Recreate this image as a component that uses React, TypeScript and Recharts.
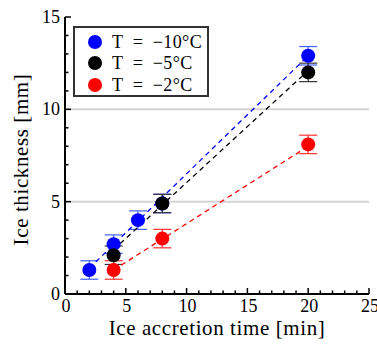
import { ScatterChart, Scatter, XAxis, YAxis, ErrorBar, ReferenceLine, Legend } from 'recharts';

// measured points
const timesA = [2, 4, 6, 8, 20];
const thickA = [1.3, 2.7, 4.0, 4.9, 12.9];
const errA = [0.5, 0.5, 0.5, 0.5, 0.5];

const timesB = [4, 8, 20];
const thickB = [2.1, 4.9, 12.0];
const errB = [0.5, 0.5, 0.5];

const timesC = [4, 8, 20];
const thickC = [1.3, 3.0, 8.1];
const errC = [0.5, 0.5, 0.5];

// fitted lines (end points)
const fitX_A = [2, 20];
const fitY_A = [1.4, 12.9];
const fitX_B = [4, 20];
const fitY_B = [2.4, 12.1];
const fitX_C = [4, 20];
const fitY_C = [1.3, 8.0];

const xTicks = [0, 1, 2, 3, 4, 5, 6, 7, 8, 9, 10, 11, 12, 13, 14, 15, 16, 17, 18, 19, 20, 21, 22, 23, 24, 25];
const yTicks = [0, 1, 2, 3, 4, 5, 6, 7, 8, 9, 10, 11, 12, 13, 14, 15];
const gridValues = [5, 10];

const SERIF = 'Liberation Serif, DejaVu Serif, serif';

const toPoints = (xs: number[], ys: number[], errs?: number[]) =>
  xs.map((x, i) => ({ x, y: ys[i], err: errs ? errs[i] : 0 }));

const series = [
  { name: 'T\u2002=\u2002\u221210°C', color: '#0000ff', errColor: '#4060ff', data: toPoints(timesA, thickA, errA), fit: toPoints(fitX_A, fitY_A) },
  { name: 'T\u2002=\u2002\u22125°C', color: '#000000', errColor: '#333333', data: toPoints(timesB, thickB, errB), fit: toPoints(fitX_B, fitY_B) },
  { name: 'T\u2002=\u2002\u22122°C', color: '#ff0000', errColor: '#ff3030', data: toPoints(timesC, thickC, errC), fit: toPoints(fitX_C, fitY_C) },
];

const isMajor = (v: number) => v % 5 === 0;

const BottomTick = (p: any) => {
  const v = p.payload.value;
  return (
    <g>
      <line x1={p.x} x2={p.x} y1={p.y} y2={p.y - (isMajor(v) ? 6 : 3.5)} stroke="#000" strokeWidth={1.5} />
      {isMajor(v) && (
        <text x={p.x + 1} y={p.y + 18} textAnchor="middle" fontSize={18} style={{ fontFamily: SERIF }} fill="#000">
          {v}
        </text>
      )}
    </g>
  );
};

const TopTick = (p: any) => {
  const v = p.payload.value;
  return <line x1={p.x} x2={p.x} y1={p.y} y2={p.y + (isMajor(v) ? 6 : 3.5)} stroke="#000" strokeWidth={1.5} />;
};

const LeftTick = (p: any) => {
  const v = p.payload.value;
  return (
    <g>
      <line x1={p.x} x2={p.x + (isMajor(v) ? 6 : 3.5)} y1={p.y} y2={p.y} stroke="#000" strokeWidth={1.5} />
      {isMajor(v) && (
        <text x={p.x - 5} y={p.y + 6} textAnchor="end" fontSize={18} style={{ fontFamily: SERIF }} fill="#000">
          {v}
        </text>
      )}
    </g>
  );
};

const RightTick = (p: any) => {
  const v = p.payload.value;
  return <line x1={p.x} x2={p.x - (isMajor(v) ? 6 : 3.5)} y1={p.y} y2={p.y} stroke="#000" strokeWidth={1.5} />;
};

const XTitle = (p: any) => {
  const vb = p.viewBox;
  return (
    <text x={vb.x + vb.width / 2} y={vb.y + 41} textAnchor="middle" fontSize={21} style={{ fontFamily: SERIF, letterSpacing: 0.6 }} fill="#000">
      Ice accretion time [min]
    </text>
  );
};

const YTitle = (p: any) => {
  const vb = p.viewBox;
  const cx = 28;
  const cy = vb.y + vb.height / 2 + 4;
  return (
    <text x={cx} y={cy} transform={`rotate(-90 ${cx} ${cy})`} textAnchor="middle" fontSize={21} style={{ fontFamily: SERIF, letterSpacing: 0.6 }} fill="#000">
      Ice thickness [mm]
    </text>
  );
};

const LegendBox = () => (
  <div
    style={{
      boxSizing: 'border-box',
      width: 136,
      height: 71,
      border: '2px solid #333',
      background: '#fff',
      paddingTop: 3,
      fontFamily: SERIF,
      fontSize: 18,
      letterSpacing: 0.4,
    }}
  >
    {series.map((s) => (
      <div key={s.name} style={{ display: 'flex', alignItems: 'center', height: 21.5 }}>
        <span style={{ display: 'inline-block', width: 14, height: 14, borderRadius: 7, background: s.color, marginLeft: 13, marginRight: 10 }} />
        <span style={{ lineHeight: '20px' }}>{s.name}</span>
      </div>
    ))}
  </div>
);

const Dot = (color: string) => (p: any) => <circle cx={p.cx} cy={p.cy} r={7} fill={color} />;

export default function App() {
  return (
    <div style={{ position: 'absolute', left: 0, top: 0, fontFamily: SERIF }}>
      <ScatterChart width={377} height={345} margin={{ top: 17, right: 8, bottom: 0, left: 0 }}>
        <XAxis
          xAxisId="b"
          dataKey="x"
          type="number"
          domain={[0, 25]}
          ticks={xTicks}
          interval={0}
          height={51}
          tickSize={0}
          tickMargin={0}
          tickLine={false}
          tick={BottomTick}
          axisLine={{ stroke: '#000', strokeWidth: 2 }}
          label={<XTitle />}
        />
        <XAxis
          xAxisId="t"
          orientation="top"
          type="number"
          domain={[0, 25]}
          ticks={xTicks}
          interval={0}
          height={0}
          tickSize={0}
          tickMargin={0}
          tickLine={false}
          tick={TopTick}
          axisLine={{ stroke: '#000', strokeWidth: 2 }}
        />
        <YAxis
          yAxisId="l"
          dataKey="y"
          type="number"
          domain={[0, 15]}
          ticks={yTicks}
          interval={0}
          width={65}
          tickSize={0}
          tickMargin={0}
          tickLine={false}
          tick={LeftTick}
          axisLine={{ stroke: '#000', strokeWidth: 2 }}
          label={<YTitle />}
        />
        <YAxis
          yAxisId="r"
          orientation="right"
          type="number"
          domain={[0, 15]}
          ticks={yTicks}
          interval={0}
          width={0}
          tickSize={0}
          tickMargin={0}
          tickLine={false}
          tick={RightTick}
          axisLine={{ stroke: '#000', strokeWidth: 2 }}
        />
        {gridValues.map((g) => (
          <ReferenceLine key={g} xAxisId="b" yAxisId="l" y={g} stroke="#d4d4d4" strokeWidth={2} />
        ))}
        {series.map((s) => (
          <Scatter
            key={`fit-${s.name}`}
            xAxisId="b"
            yAxisId="l"
            data={s.fit}
            fill={s.color}
            line={{ stroke: s.color, strokeWidth: 1.3, strokeDasharray: '5 4' }}
            shape={() => <g />}
            legendType="none"
            isAnimationActive={false}
          />
        ))}
        {series.map((s) => (
          <Scatter
            key={s.name}
            name={s.name}
            xAxisId="b"
            yAxisId="l"
            data={s.data}
            fill={s.color}
            shape={Dot(s.color)}
            isAnimationActive={false}
          >
            <ErrorBar dataKey="err" direction="y" width={9} stroke={s.errColor} strokeWidth={1.2} />
          </Scatter>
        ))}
        <Legend
          layout="vertical"
          align="center"
          verticalAlign="middle"
          content={<LegendBox />}
          wrapperStyle={{ left: 73, top: 26, width: 136, height: 71 }}
        />
      </ScatterChart>
    </div>
  );
}
